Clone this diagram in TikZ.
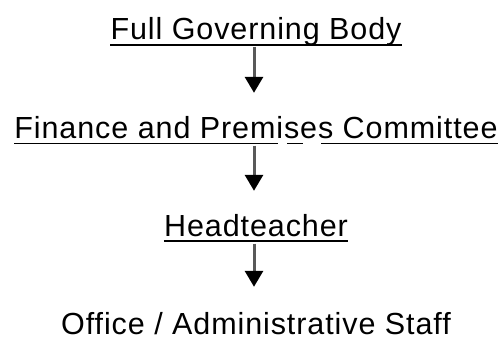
\documentclass[tikz,border=0pt]{standalone}
\usepackage{fontspec}
\setmainfont{Liberation Sans}[LetterSpace=3]
\usetikzlibrary{arrows.meta}

\begin{document}
\begin{tikzpicture}[x=1pt,y=1pt,
    lvl/.style={anchor=base,inner sep=0pt,text height=22pt,text depth=6.5pt,
      font=\fontsize{30.5}{36}\selectfont},
    uline/.style={line width=1.8pt},
    flow/.style={line width=3pt,black!65,shorten >=24pt,
      -{Triangle[width=18pt,length=16pt,color=black]}}]
    \useasboundingbox (0,0) rectangle (501,340);
    \node[lvl] (fgb) at (256,300) {Full Governing Body};
    \node[lvl] (fpc) at (256,201) {Finance and Premises Committee};
    \node[lvl] (ht) at (256,103) {Headteacher};
    \node[lvl,text depth=0pt,text height=24pt] (oas) at (256,5) {Office / Administrative Staff};
    \draw[uline] ([yshift=-5pt]fgb.base west) -- ([yshift=-5pt]fgb.base east);
    \draw[uline] ([yshift=-4.5pt]fpc.base west) -- ++(264,0) ++(9,0) -- ++(16,0)
      ++(18,0) -- ([yshift=-4.5pt]fpc.base east);
    \draw[uline] ([yshift=-4pt]ht.base west) -- ([yshift=-4pt]ht.base east);
    \foreach \a/\b in {fgb/fpc,fpc/ht,ht/oas}
     {\draw[flow] ([xshift=-2pt]\a.south) -- ([xshift=-2pt]\b.north);}
  \end{tikzpicture}
\end{document}
